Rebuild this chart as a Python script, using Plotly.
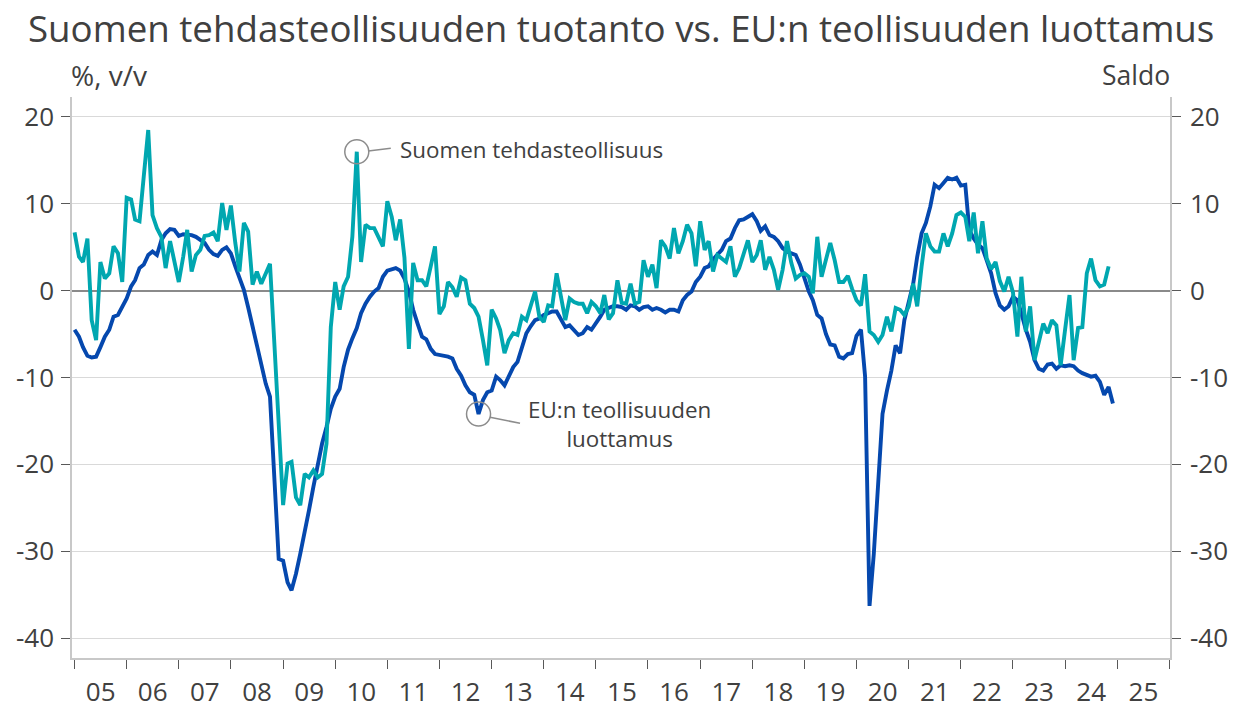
import pandas as pd
import plotly.graph_objects as go

# ---------------- data (monthly, from Jan 2005) ----------------
start_month = "2005-01-01"

# EU:n teollisuuden luottamus (saldo), Jan 2005 - Dec 2024
eu_conf = [
    -4.5, -5.3, -6.5, -7.5, -7.7, -7.6, -6.5, -5.3, -4.5, -3.0, -2.8, -1.8,   # 2005
    -0.9, 0.5, 1.2, 2.6, 3.0, 4.1, 4.5, 4.1, 5.8, 6.6, 7.1, 7.0,             # 2006
    6.3, 6.5, 6.5, 6.4, 6.2, 5.8, 5.5, 4.7, 4.2, 4.0, 4.7, 5.0,              # 2007
    4.3, 2.8, 1.5, 0.1, -1.9, -4.2, -6.1, -8.5, -10.7, -12.2, -21.5, -30.9,  # 2008
    -31.1, -33.6, -34.5, -32.6, -30.3, -28.0, -25.3, -22.6, -19.9, -17.6, -15.7, -13.6,  # 2009
    -12.2, -11.3, -8.8, -6.8, -5.5, -4.3, -2.6, -1.5, -0.7, -0.1, 0.3, 1.6,  # 2010
    2.3, 2.4, 2.6, 2.3, 1.4, -0.1, -2.2, -3.8, -5.3, -5.6, -6.7, -7.3,       # 2011
    -7.4, -7.4, -7.6, -7.8, -9.0, -9.8, -10.9, -11.7, -12.0, -14.2, -12.6, -11.7,  # 2012
    -11.5, -9.9, -10.3, -10.9, -9.9, -8.8, -8.2, -6.5, -4.9, -4.1, -3.4, -3.2,  # 2013
    -2.8, -2.6, -2.4, -2.4, -3.2, -4.2, -4.0, -4.5, -5.1, -4.9, -4.2, -4.5,  # 2014
    -3.8, -3.0, -2.2, -2.0, -1.8, -1.8, -1.9, -2.2, -1.7, -1.8, -2.2, -1.9,  # 2015
    -1.8, -2.2, -2.0, -2.2, -2.5, -2.2, -2.2, -2.4, -1.1, -0.5, -0.1, 1.0,   # 2016
    1.6, 2.6, 2.8, 3.6, 4.1, 4.7, 5.7, 6.0, 7.2, 8.1, 8.2, 8.5,              # 2017
    8.8, 8.0, 6.9, 7.4, 6.4, 6.2, 5.7, 4.9, 4.5, 4.3, 4.1, 3.0,              # 2018
    1.4, -0.1, -1.1, -2.8, -3.2, -5.0, -6.2, -6.3, -7.6, -7.8, -7.3, -7.2,   # 2019
    -5.2, -4.5, -9.9, -36.3, -30.3, -21.8, -14.2, -11.5, -9.2, -6.3, -7.2, -3.4,  # 2020
    -1.5, 0.8, 3.9, 6.6, 7.8, 9.7, 12.2, 11.8, 12.4, 13.0, 12.8, 13.0,       # 2021
    12.1, 12.2, 7.0, 6.0, 5.3, 4.9, 3.5, 2.0, -0.3, -1.7, -2.2, -1.8,        # 2022
    -0.7, -1.1, -2.6, -4.5, -5.9, -8.0, -9.0, -9.2, -8.5, -8.4, -9.0, -8.6,  # 2023
    -8.7, -8.6, -8.7, -9.2, -9.5, -9.7, -9.9, -9.8, -10.5, -12.0, -11.1, -13.0,  # 2024
]

# Suomen tehdasteollisuuden tuotanto (%, v/v), Jan 2005 - Nov 2024
fin_prod = [
    6.7, 3.9, 3.3, 6.0, -3.4, -5.7, 3.3, 1.4, 2.0, 5.1, 4.3, 1.0,            # 2005
    10.7, 10.5, 8.2, 8.0, 13.2, 18.5, 8.7, 7.2, 6.2, 2.6, 5.7, 3.3,          # 2006
    1.0, 3.9, 7.0, 2.2, 4.1, 4.7, 6.3, 6.4, 6.7, 5.7, 10.1, 7.0,             # 2007
    9.8, 5.5, 2.2, 7.8, 6.8, 0.7, 2.2, 0.8, 2.0, 3.1, -6.2, -15.5,           # 2008
    -24.7, -19.9, -19.7, -23.8, -24.7, -21.1, -21.5, -20.7, -21.5, -21.1, -17.6, -4.2,  # 2009
    1.0, -2.2, 0.5, 1.6, 6.2, 16.0, 3.3, 7.6, 7.2, 7.2, 6.0, 5.1,            # 2010
    10.3, 8.5, 5.8, 8.2, 3.8, -6.7, 3.2, 1.2, 1.2, 0.5, 2.8, 5.1,            # 2011
    -2.7, -1.8, 1.0, 0.4, -0.7, 1.5, 1.2, -1.5, -2.0, -3.0, -5.7, -8.6,      # 2012
    -2.2, -3.2, -4.5, -7.2, -5.7, -4.9, -5.1, -3.0, -3.4, -1.8, -0.1, -3.0,  # 2013
    -3.6, -1.7, -1.8, 2.0, -0.7, -3.4, -0.9, -1.3, -1.5, -1.5, -2.6, -1.3,   # 2014
    -1.8, -2.6, -0.5, -3.3, -2.6, 1.2, -1.4, -1.5, 0.8, -1.5, -1.3, 3.5,     # 2015
    1.6, 3.0, 0.3, 5.8, 5.1, 3.7, 7.2, 4.3, 5.7, 7.6, 6.6, 2.8,              # 2016
    8.0, 4.7, 5.7, 2.2, 4.1, 3.7, 3.3, 5.1, 1.6, 2.6, 4.3, 5.8,              # 2017
    3.3, 4.1, 5.8, 2.4, 3.9, 2.4, 0.1, 2.4, 5.7, 3.2, 1.4, 1.8,              # 2018
    2.0, 1.6, -0.3, 6.2, 1.6, 3.5, 5.5, 3.5, 1.0, 1.0, 1.7, 0.2,             # 2019
    -1.1, -1.7, 1.9, -4.7, -5.1, -5.9, -5.1, -3.0, -4.7, -2.0, -2.2, -2.8,   # 2020
    -1.8, 0.8, -1.8, 2.8, 6.6, 5.1, 4.5, 4.5, 6.6, 5.1, 6.6, 8.7,            # 2021
    9.0, 8.5, 5.7, 9.0, 4.3, 8.0, 3.7, 2.5, 3.3, 1.1, -0.1, 1.6,             # 2022
    -0.2, -5.3, 1.6, -4.7, -1.8, -8.0, -6.0, -3.8, -4.9, -3.4, -4.0, -8.6,   # 2023
    -4.5, -0.5, -8.0, -4.3, -4.2, 2.0, 3.7, 1.2, 0.5, 0.7, 2.8,              # 2024
]

# axis ticks / labels
y_tick_values = [-40, -30, -20, -10, 0, 10, 20]
y_tick_text = ["-40", "-30", "-20", "-10", "0", "10", "20"]
year_labels_from = "2005-01-01"
fin_label_month = "2010-06-01"   # annotated point, Suomen tehdasteollisuus
eu_label_month = "2012-10-01"    # annotated point, EU:n teollisuuden luottamus

title_text = "Suomen tehdasteollisuuden tuotanto vs. EU:n teollisuuden luottamus"
left_unit, right_unit = "%, v/v", "Saldo"
fin_name = "Suomen tehdasteollisuus"
eu_name = "EU:n teollisuuden<br>luottamus"

# ---------------- build ----------------
months_eu = pd.date_range(start_month, periods=len(eu_conf), freq="MS")
months_fin = pd.date_range(start_month, periods=len(fin_prod), freq="MS")
fin_s = pd.Series(fin_prod, index=months_fin)
eu_s = pd.Series(eu_conf, index=months_eu)

BLUE = "#0548AE"
TEAL = "#00A7B0"
TXT = "#404040"
GRID = "#d9d9d9"
FONT = "Open Sans"

# the page body has an 8 px margin, so the figure is 8 px smaller each way
W, H = 1228, 696

fig = go.Figure()
fig.add_trace(go.Scatter(x=months_eu, y=eu_conf, mode="lines", name="EU",
                         line=dict(color=BLUE, width=3.9), yaxis="y"))
fig.add_trace(go.Scatter(x=months_fin, y=fin_prod, mode="lines", name="FIN",
                         line=dict(color=TEAL, width=3.9), yaxis="y2"))

yr = [-42.3, 22.3]
axis_common = dict(range=yr, tickmode="array", tickvals=y_tick_values,
                   ticktext=y_tick_text, ticks="outside", ticklen=9,
                   tickcolor="#595959", tickwidth=1.3, showline=True,
                   linecolor="#c8c8c8", linewidth=1.5, automargin=False,
                   tickfont=dict(family=FONT, size=26, color=TXT))

fig.update_layout(
    width=W, height=H,
    margin=dict(l=64, r=66, t=89, b=46, autoexpand=False),
    paper_bgcolor="white", plot_bgcolor="white",
    showlegend=False,
    font=dict(family=FONT, color=TXT),
    title=dict(text=title_text, x=20 / W, xref="container", xanchor="left",
               y=1 - 21 / H, yref="container", yanchor="middle",
               font=dict(family=FONT, size=36.7, color=TXT)),
    xaxis=dict(type="date", range=["2004-12-14", "2026-01-05"],
               tick0=year_labels_from, dtick="M12", tickformat="%y",
               ticklabelmode="period", ticks="outside", ticklen=9,
               tickcolor="#595959", tickwidth=1.3, showgrid=False,
               showline=True, linecolor="#c8c8c8", linewidth=1.5,
               ticklabelstandoff=1, zeroline=False, automargin=False,
               tickfont=dict(family=FONT, size=26, color=TXT)),
    yaxis=dict(side="left", showgrid=True, gridcolor=GRID, gridwidth=1.3,
               zeroline=True, zerolinecolor="#8a8a8a", zerolinewidth=1.8,
               ticklabelstandoff=2, **axis_common),
    yaxis2=dict(side="right", overlaying="y", matches="y", showgrid=False,
                zeroline=False, ticklabelstandoff=4, **axis_common),
)

# axis unit labels
fig.add_annotation(text=left_unit, xref="paper", yref="paper", x=0, y=1.0386,
                   xanchor="left", yanchor="middle", showarrow=False, xshift=-3,
                   font=dict(family=FONT, size=28, color=TXT))
fig.add_annotation(text=right_unit, xref="paper", yref="paper", x=1, y=1.0386,
                   xanchor="right", yanchor="middle", showarrow=False, xshift=2,
                   font=dict(family=FONT, size=26.5, color=TXT))

# series callouts anchored to the data points
fin_x, fin_y = pd.Timestamp(fin_label_month), fin_s[fin_label_month]
eu_x, eu_y = pd.Timestamp(eu_label_month), eu_s[eu_label_month]
CIRC = "#8c8c8c"
for (ax, ay, yref) in [(fin_x, fin_y, "y2"), (eu_x, eu_y, "y")]:
    fig.add_shape(type="circle", xref="x", yref=yref, xsizemode="pixel",
                  ysizemode="pixel", xanchor=ax, yanchor=ay,
                  x0=-12, x1=12, y0=-12, y1=12,
                  line=dict(color=CIRC, width=1.5), fillcolor="rgba(0,0,0,0)")
fig.add_shape(type="line", xref="x", yref="y2", xsizemode="pixel",
              ysizemode="pixel", xanchor=fin_x, yanchor=fin_y,
              x0=11.5, x1=34, y0=0.7, y1=3.4, line=dict(color=CIRC, width=1.5))
fig.add_shape(type="line", xref="x", yref="y", xsizemode="pixel",
              ysizemode="pixel", xanchor=eu_x, yanchor=eu_y,
              x0=11.5, x1=41.5, y0=-3.3, y1=-9.3, line=dict(color=CIRC, width=1.5))

fig.add_annotation(text=fin_name, x=fin_x, y=fin_y, xref="x", yref="y2",
                   xanchor="left", yanchor="middle", xshift=41, yshift=2,
                   showarrow=False, font=dict(family=FONT, size=22.4, color=TXT))
fig.add_annotation(text=eu_name, x=eu_x, y=eu_y, xref="x", yref="y",
                   xanchor="center", yanchor="middle", xshift=141, yshift=-10,
                   align="center", showarrow=False,
                   font=dict(family=FONT, size=22.4, color=TXT))

fig.write_html("out.html")
